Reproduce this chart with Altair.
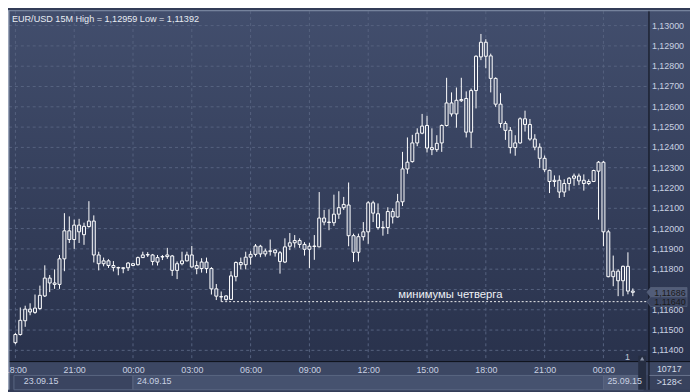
import altair as alt
import numpy as np
import pandas as pd

# ---------------- data (EUR/USD 15M candles, first bar 23.09.15 18:00) ----------------
OPEN = [
    1.11438, 1.11478, 1.11546, 1.11603, 1.11587, 1.11606, 1.11668, 1.11756, 1.11725, 1.11725, 1.11851, 1.11989,
    1.11946, 1.12017, 1.11970, 1.12010, 1.12037, 1.11870, 1.11827, 1.11841, 1.11818, 1.11808, 1.11804, 1.11807,
    1.11818, 1.11822, 1.11857, 1.11870, 1.11870, 1.11835, 1.11860, 1.11862, 1.11865, 1.11794, 1.11827, 1.11841,
    1.11870, 1.11818, 1.11803, 1.11835, 1.11803, 1.11703, 1.11665, 1.11668, 1.11651, 1.11763, 1.11833, 1.11822,
    1.11859, 1.11873, 1.11913, 1.11875, 1.11888, 1.11894, 1.11881, 1.11835, 1.11913, 1.11930, 1.11941, 1.11922,
    1.11898, 1.11912, 1.11910, 1.12052, 1.12030, 1.12029, 1.12071, 1.12103, 1.12116, 1.11965, 1.11883, 1.11960,
    1.11984, 1.12127, 1.12073, 1.12004, 1.12005, 1.12084, 1.12057, 1.12132, 1.12294, 1.12330, 1.12422, 1.12470,
    1.12508, 1.12399, 1.12389, 1.12422, 1.12508, 1.12619, 1.12565, 1.12636, 1.12641, 1.12475, 1.12680, 1.12846,
    1.12918, 1.12851, 1.12740, 1.12613, 1.12518, 1.12484, 1.12399, 1.12422, 1.12541, 1.12513, 1.12441, 1.12401,
    1.12346, 1.12287, 1.12232, 1.12238, 1.12180, 1.12222, 1.12248, 1.12259, 1.12238, 1.12222, 1.12232, 1.12283,
    1.12327, 1.11984, 1.11763, 1.11790, 1.11743, 1.11814, 1.11692,
]
HIGH = [
    1.11485, 1.11611, 1.11620, 1.11632, 1.11675, 1.11719, 1.11819, 1.11771, 1.11799, 1.11870, 1.12076, 1.12060,
    1.12044, 1.12048, 1.12029, 1.12135, 1.12065, 1.11886, 1.11857, 1.11849, 1.11840, 1.11812, 1.11810, 1.11835,
    1.11830, 1.11862, 1.11886, 1.11884, 1.11875, 1.11870, 1.11870, 1.11905, 1.11870, 1.11838, 1.11886, 1.11886,
    1.11914, 1.11841, 1.11854, 1.11857, 1.11810, 1.11727, 1.11690, 1.11672, 1.11790, 1.11838, 1.11857, 1.11886,
    1.11889, 1.11924, 1.11920, 1.11901, 1.11946, 1.11900, 1.11889, 1.11952, 1.11978, 1.11968, 1.11952, 1.11933,
    1.11930, 1.11968, 1.12180, 1.12092, 1.12095, 1.12167, 1.12184, 1.12156, 1.12227, 1.11975, 1.11975, 1.12032,
    1.12135, 1.12137, 1.12124, 1.12037, 1.12105, 1.12100, 1.12171, 1.12378, 1.12449, 1.12462, 1.12494, 1.12565,
    1.12556, 1.12494, 1.12460, 1.12513, 1.12743, 1.12671, 1.12695, 1.12743, 1.12676, 1.12690, 1.12854, 1.12959,
    1.12933, 1.12862, 1.12745, 1.12667, 1.12529, 1.12500, 1.12460, 1.12548, 1.12581, 1.12540, 1.12465, 1.12420,
    1.12360, 1.12290, 1.12262, 1.12262, 1.12243, 1.12254, 1.12271, 1.12271, 1.12267, 1.12243, 1.12290, 1.12333,
    1.12333, 1.11994, 1.11867, 1.11800, 1.11818, 1.11883, 1.11705,
]
LOW = [
    1.11430, 1.11473, 1.11516, 1.11573, 1.11580, 1.11600, 1.11663, 1.11687, 1.11703, 1.11703, 1.11790, 1.11929,
    1.11900, 1.11929, 1.11920, 1.12005, 1.11833, 1.11794, 1.11814, 1.11806, 1.11789, 1.11770, 1.11780, 1.11791,
    1.11815, 1.11818, 1.11855, 1.11860, 1.11819, 1.11818, 1.11845, 1.11851, 1.11767, 1.11751, 1.11819, 1.11838,
    1.11808, 1.11775, 1.11783, 1.11780, 1.11675, 1.11648, 1.11640, 1.11645, 1.11648, 1.11740, 1.11799, 1.11799,
    1.11822, 1.11862, 1.11859, 1.11862, 1.11867, 1.11862, 1.11778, 1.11830, 1.11894, 1.11906, 1.11905, 1.11867,
    1.11806, 1.11846, 1.11908, 1.12016, 1.11992, 1.12013, 1.12048, 1.12092, 1.11913, 1.11835, 1.11838, 1.11941,
    1.11925, 1.12032, 1.11995, 1.11965, 1.11973, 1.12025, 1.12054, 1.12111, 1.12270, 1.12325, 1.12406, 1.12465,
    1.12375, 1.12362, 1.12378, 1.12378, 1.12503, 1.12552, 1.12497, 1.12624, 1.12449, 1.12397, 1.12592, 1.12830,
    1.12790, 1.12671, 1.12600, 1.12497, 1.12437, 1.12370, 1.12359, 1.12418, 1.12478, 1.12433, 1.12386, 1.12299,
    1.12278, 1.12175, 1.12206, 1.12151, 1.12156, 1.12187, 1.12211, 1.12214, 1.12187, 1.12214, 1.12229, 1.12044,
    1.11913, 1.11760, 1.11716, 1.11667, 1.11667, 1.11676, 1.11667,
]
CLOSE = [
    1.11478, 1.11548, 1.11603, 1.11589, 1.11608, 1.11671, 1.11756, 1.11732, 1.11732, 1.11851, 1.11989, 1.11946,
    1.12017, 1.11984, 1.12011, 1.12037, 1.11870, 1.11827, 1.11841, 1.11818, 1.11808, 1.11806, 1.11807, 1.11830,
    1.11827, 1.11857, 1.11870, 1.11872, 1.11838, 1.11857, 1.11862, 1.11870, 1.11794, 1.11827, 1.11841, 1.11870,
    1.11811, 1.11803, 1.11835, 1.11803, 1.11703, 1.11667, 1.11663, 1.11650, 1.11767, 1.11833, 1.11822, 1.11859,
    1.11873, 1.11914, 1.11875, 1.11889, 1.11890, 1.11881, 1.11838, 1.11910, 1.11930, 1.11941, 1.11922, 1.11898,
    1.11913, 1.11914, 1.12052, 1.12032, 1.12032, 1.12071, 1.12103, 1.12119, 1.11965, 1.11883, 1.11960, 1.11984,
    1.12127, 1.12076, 1.12005, 1.12006, 1.12084, 1.12057, 1.12132, 1.12294, 1.12327, 1.12422, 1.12470, 1.12505,
    1.12397, 1.12389, 1.12420, 1.12508, 1.12619, 1.12565, 1.12632, 1.12630, 1.12475, 1.12680, 1.12849, 1.12918,
    1.12849, 1.12740, 1.12613, 1.12518, 1.12484, 1.12399, 1.12422, 1.12541, 1.12513, 1.12441, 1.12401, 1.12346,
    1.12290, 1.12232, 1.12238, 1.12180, 1.12222, 1.12248, 1.12259, 1.12235, 1.12222, 1.12232, 1.12286, 1.12327,
    1.11984, 1.11763, 1.11790, 1.11743, 1.11814, 1.11692, 1.11686,
]
FIRST_BAR_MINUTE = -360          # 23.09.15 18:00, minutes counted from 24.09.15 00:00
BAR_MINUTES = 15
PRICE_TICKS = [1.114, 1.115, 1.116, 1.118, 1.119, 1.120, 1.121, 1.122,
               1.123, 1.124, 1.125, 1.126, 1.127, 1.128, 1.129, 1.130]   # 1,11700 is hidden by the price tag
TIME_TICKS = [-360, -180, 0, 180, 360, 540, 720, 900, 1080, 1260, 1440]
DAY_LABELS = ["23.09.15", "24.09.15", "25.09.15"]
DAY_START = [-1440, 0, 1440]
THURSDAY_MIN = 1.11640
THURSDAY_MIN_MINUTE = 270
TITLE = "EUR/USD 15M  High = 1,12959 Low = 1,11392"
MIN_TEXT = "минимумы четверга"
COUNTER_TOP = "10717"
COUNTER_BOTTOM = ">128<"

# ---------------- layout / style ----------------
W, H = 647, 354
X_DOMAIN = [-364.5, 1562.8]
Y_DOMAIN = [1.11347, 1.13071]
FONT = "Liberation Sans"
LBL = "#c9d1e2"
RED = "#e3173e"
GRID = "#56627f"
DARK = "#0c0f17"

bars = pd.DataFrame({
    "minute": [FIRST_BAR_MINUTE + BAR_MINUTES * k for k in range(len(OPEN))],
    "open": OPEN, "high": HIGH, "low": LOW, "close": CLOSE,
})
bars["top"] = bars[["open", "close"]].max(axis=1)
bars["bot"] = bars[["open", "close"]].min(axis=1)
bars["dir"] = np.where(bars["close"] < bars["open"], "down", "up")

xs = alt.Scale(domain=X_DOMAIN, nice=False, zero=False)
ys = alt.Scale(domain=Y_DOMAIN, nice=False, zero=False)
x_axis = alt.Axis(
    values=TIME_TICKS,
    labelExpr="format((((datum.value / 60) % 24) + 24) % 24, '02d') + ':00'",
    grid=False, ticks=False, domain=False, title=None,
    labelColor=LBL, labelFont=FONT, labelFontSize=9, labelPadding=5,
    labelFlush=False, labelOverlap=False, labelBound=False, zindex=1,
)


def X(f):
    return alt.X(f, type="quantitative", scale=xs, axis=x_axis)


def Y(f):
    return alt.Y(f, type="quantitative", scale=ys, axis=None)


one = pd.DataFrame({"k": [0]})

bg = alt.Chart(one).mark_rect(color={
    "gradient": "linear", "x1": 0, "x2": 0, "y1": 0, "y2": 1,
    "stops": [{"offset": 0, "color": "#424e6d"}, {"offset": 1, "color": "#29324c"}],
}).encode(x=alt.value(-1), x2=alt.value(W + 42), y=alt.value(-1), y2=alt.value(H))

time_row = alt.Chart(one).mark_rect(color="#3c4763").encode(
    x=alt.value(-1), x2=alt.value(W + 42), y=alt.value(H), y2=alt.value(H + 14))
date_row = alt.Chart(one).mark_rect(color="#38425d").encode(
    x=alt.value(-1), x2=alt.value(W + 42), y=alt.value(H + 14), y2=alt.value(H + 29))

days = pd.DataFrame({
    "label": DAY_LABELS,
    "start": [max(s, X_DOMAIN[0]) for s in DAY_START],
    "end": [min(e, X_DOMAIN[1]) for e in DAY_START[1:] + [X_DOMAIN[1]]],
})
day_boxes = alt.Chart(days).mark_rect(stroke="#5a6682", strokeWidth=1).encode(
    x=X("start"), x2=alt.X2("end"), y=alt.value(H + 14.5), y2=alt.value(H + 29),
    fill=alt.Fill("label:N", scale=alt.Scale(domain=DAY_LABELS,
                  range=["#3a4460", "#46526f", "#525d79"]), legend=None),
)

hgrid = alt.Chart(pd.DataFrame({"p": PRICE_TICKS + [1.117]})).mark_rule(
    color=GRID, strokeDash=[3, 3], strokeWidth=1).encode(
    y=Y("p"), x=alt.value(0), x2=alt.value(W))
vgrid = alt.Chart(pd.DataFrame({"m": TIME_TICKS})).mark_rule(
    color=GRID, strokeDash=[3, 3], strokeWidth=1).encode(
    x=X("m"), y=alt.value(0), y2=alt.value(H))

minline_df = pd.DataFrame({"m": [THURSDAY_MIN_MINUTE], "p": [THURSDAY_MIN]})
minline = alt.Chart(minline_df).mark_rule(
    color="#f0f0f0", strokeDash=[2, 2], strokeWidth=1).encode(
    x=X("m"), x2=alt.value(W), y=Y("p"))
mintext = alt.Chart(minline_df).mark_text(
    text=MIN_TEXT, font=FONT, fontSize=11.4, color="#eef1f6",
    align="center", baseline="alphabetic", dy=-4).encode(
    x=alt.value(446.5), y=Y("p"))

wick_up = alt.Chart(bars).mark_rule(color="white", strokeWidth=1).encode(
    x=X("minute"), y=Y("high"), y2=alt.Y2("top"))
wick_dn = alt.Chart(bars).mark_rule(color="white", strokeWidth=1).encode(
    x=X("minute"), y=Y("bot"), y2=alt.Y2("low"))
bodies = alt.Chart(bars).mark_bar(size=3, stroke="white", strokeWidth=1).encode(
    x=X("minute"), y=Y("top"), y2=alt.Y2("bot"),
    fill=alt.Fill("dir:N", scale=alt.Scale(domain=["up", "down"],
                  range=["transparent", RED]), legend=None),
)

ylabels = alt.Chart(pd.DataFrame({"p": PRICE_TICKS})).transform_calculate(
    lbl="replace(format(datum.p, '.5f'), '.', ',')").mark_text(
    align="left", baseline="middle", font=FONT, fontSize=9, color=LBL).encode(
    x=alt.value(W + 3.5), y=Y("p"), text="lbl:N")

vline = alt.Chart(one).mark_rule(color=DARK, strokeWidth=1).encode(
    x=alt.value(W + 0.5), y=alt.value(-1), y2=alt.value(H + 29))
hline = alt.Chart(one).mark_rule(color=DARK, strokeWidth=1).encode(
    y=alt.value(H + 0.5), x=alt.value(-1), x2=alt.value(W + 42))
sep = alt.Chart(one).mark_rule(color="#6a7590", strokeWidth=1).encode(
    y=alt.value(H + 14.5), x=alt.value(W + 1), x2=alt.value(W + 42))
lborder = alt.Chart(one).mark_rule(color="#9aa4b8", strokeWidth=1.5).encode(
    x=alt.value(-0.3), y=alt.value(-1), y2=alt.value(H + 29))
tborder = alt.Chart(one).mark_rule(color="#8793ab", strokeWidth=1).encode(
    y=alt.value(-0.5), x=alt.value(-1), x2=alt.value(W + 42))

TAG_PATH = "M-1,0L-0.82,-0.24L1,-0.24L1,0.24L-0.82,0.24Z"
tags_df = pd.DataFrame({"p": [CLOSE[-1], THURSDAY_MIN], "kind": ["last", "min"]})
tags = alt.Chart(tags_df).mark_point(
    shape=TAG_PATH, filled=True, size=1640, opacity=1, fillOpacity=1,
    stroke="#5d6780", strokeWidth=0.6).encode(
    x=alt.value(W + 18.75), y=Y("p"),
    fill=alt.Fill("kind:N", scale=alt.Scale(domain=["last", "min"],
                  range=["#b6bdca", "#ece6c3"]), legend=None),
)
tag_text = alt.Chart(tags_df).transform_calculate(
    lbl="replace(format(datum.p, '.5f'), '.', ',')").mark_text(
    align="center", baseline="middle", font=FONT, fontSize=9, color="#1b1b1b", dy=0.5).encode(
    x=alt.value(W + 21.7), y=Y("p"), text="lbl:N")

strip = alt.Chart(one).mark_rect(color="#262e42").encode(
    x=alt.value(W - 10.4), x2=alt.value(W - 2.5), y=alt.value(H - 5.5), y2=alt.value(H + 29))
strip_arrow = alt.Chart(one).mark_point(
    shape="triangle-up", filled=True, size=18, color="#8d96aa", opacity=1).encode(
    x=alt.value(W - 6.4), y=alt.value(H - 2.5))
shift_txt = alt.Chart(one).mark_text(
    text="1", font=FONT, fontSize=9, color="#c0c8d8", align="center", baseline="alphabetic").encode(
    x=alt.value(W - 21.3), y=alt.value(H - 1.2))

date_first = alt.Chart(days).transform_filter(alt.datum.label == DAY_LABELS[0]).mark_text(
    align="left", baseline="alphabetic", font=FONT, fontSize=9, color=LBL, dx=10).encode(
    x=X("start"), y=alt.value(H + 23.3), text="label:N")
date_rest = alt.Chart(days).transform_filter(alt.datum.label != DAY_LABELS[0]).mark_text(
    align="left", baseline="alphabetic", font=FONT, fontSize=9, color=LBL, dx=4).encode(
    x=X("start"), y=alt.value(H + 23.3), text="label:N")

title = alt.Chart(one).mark_text(
    text=TITLE, font=FONT, fontSize=9.2, color="#e8ecf3", align="left", baseline="alphabetic").encode(
    x=alt.value(3), y=alt.value(10.5))

counter_top = alt.Chart(one).mark_text(
    text=COUNTER_TOP, align="center", baseline="alphabetic", font=FONT, fontSize=9,
    color="#d4dbe8").encode(x=alt.value(W + 21), y=alt.value(H + 11.5))
counter_bottom = alt.Chart(one).mark_text(
    text=COUNTER_BOTTOM, align="center", baseline="alphabetic", font=FONT, fontSize=9,
    color="#d4dbe8").encode(x=alt.value(W + 21), y=alt.value(H + 24.5))

chart = alt.layer(
    bg, time_row, date_row, day_boxes, hgrid, vgrid, minline, mintext,
    wick_up, wick_dn, bodies, ylabels, vline, hline, sep, lborder, tborder,
    tags, tag_text, strip, strip_arrow, shift_txt, date_first, date_rest, title,
    counter_top, counter_bottom,
).properties(
    width=W, height=H,
    padding={"left": 1, "top": 1, "right": 42, "bottom": 29},
    autosize=alt.AutoSizeParams(type="none"),
    background="#333c57",
).configure_view(stroke=None)

chart.save("out.html", embed_options={"renderer": "svg", "actions": False})
